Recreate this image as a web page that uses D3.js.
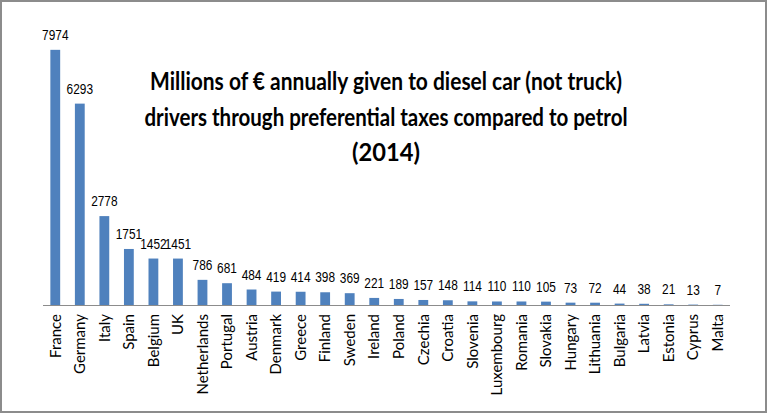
<!DOCTYPE html>
<html>
<head>
<meta charset="utf-8">
<script src="https://cdn.jsdelivr.net/npm/d3@7"></script>
<style>
  body { margin: 0; background: #fff; }
  svg { display: block; }
</style>
</head>
<body>
<svg id="chart" width="768" height="415"></svg>
<script>
var countries = ["France", "Germany", "Italy", "Spain", "Belgium", "UK", "Netherlands", "Portugal",
    "Austria", "Denmark", "Greece", "Finland", "Sweden", "Ireland", "Poland", "Czechia", "Croatia",
    "Slovenia", "Luxembourg", "Romania", "Slovakia", "Hungary", "Lithuania", "Bulgaria", "Latvia",
    "Estonia", "Cyprus", "Malta"];
var values = [7974, 6293, 2778, 1751, 1452, 1451, 786, 681, 484, 419, 414, 398, 369, 221, 189, 157,
    148, 114, 110, 110, 105, 73, 72, 44, 38, 21, 13, 7];
var titleLines = ["Millions of \u20ac annually given to diesel car (not truck)",
    "drivers through preferential taxes compared to petrol",
    "(2014)"];
var titleWidths = [472, 483, 68];

var svg = d3.select("svg#chart"),
    margin = {top: 49, right: 38, bottom: 110, left: 43},
    width = +svg.attr("width") - margin.left - margin.right,
    height = +svg.attr("height") - margin.top - margin.bottom;

// frame
svg.append("rect")
    .attr("x", 1).attr("y", 1)
    .attr("width", 765).attr("height", 411)
    .attr("fill", "none")
    .attr("stroke", "#8c8c8c")
    .attr("stroke-width", 2);

var x = d3.scaleBand().domain(countries).range([0, width]).paddingInner(0.6).paddingOuter(0.3),
    y = d3.scaleLinear().domain([0, 8000]).range([height, 0]);

var g = svg.append("g")
    .attr("transform", "translate(" + margin.left + "," + margin.top + ")");

g.selectAll(".bar")
    .data(values)
    .enter().append("rect")
    .attr("class", "bar")
    .attr("x", function(d, i) { return x(countries[i]); })
    .attr("y", function(d) { return y(d); })
    .attr("width", x.bandwidth())
    .attr("height", function(d) { return height - y(d); })
    .attr("fill", "#4f81bd");

// narrow value labels (squeezed horizontally)
g.selectAll(".val")
    .data(values)
    .enter().append("text")
    .attr("class", "val")
    .attr("transform", function(d, i) {
        return "translate(" + (x(countries[i]) + x.bandwidth() / 2) + "," + (y(d) - 10) + ") scale(0.82,1)";
    })
    .attr("text-anchor", "middle")
    .attr("font-family", "'Liberation Sans', Arial, sans-serif")
    .attr("font-size", 14.5)
    .attr("fill", "#000")
    .text(function(d) { return d; });

var xAxis = g.append("g")
    .attr("transform", "translate(0," + height + ")")
    .call(d3.axisBottom(x).tickSize(0).tickPadding(0));
xAxis.select(".domain")
    .attr("stroke", "#8c8c8c")
    .attr("d", "M0,0.5H" + width);
xAxis.selectAll("text")
    .attr("transform", "rotate(-90)")
    .attr("x", -9)
    .attr("y", 0)
    .attr("dy", "0.35em")
    .attr("text-anchor", "end")
    .attr("font-family", "Lato, 'Open Sans', sans-serif")
    .attr("font-size", 15)
    .attr("fill", "#000");

svg.selectAll(".title")
    .data(titleLines)
    .enter().append("text")
    .attr("class", "title")
    .attr("x", 386)
    .attr("y", function(d, i) { return 90 + i * 35.5; })
    .attr("text-anchor", "middle")
    .attr("font-family", "Lato, 'Open Sans', sans-serif")
    .attr("font-weight", "bold")
    .attr("font-size", 24)
    .attr("fill", "#000")
    .attr("textLength", function(d, i) { return titleWidths[i]; })
    .attr("lengthAdjust", "spacingAndGlyphs")
    .text(function(d) { return d; });
</script>
</body>
</html>
